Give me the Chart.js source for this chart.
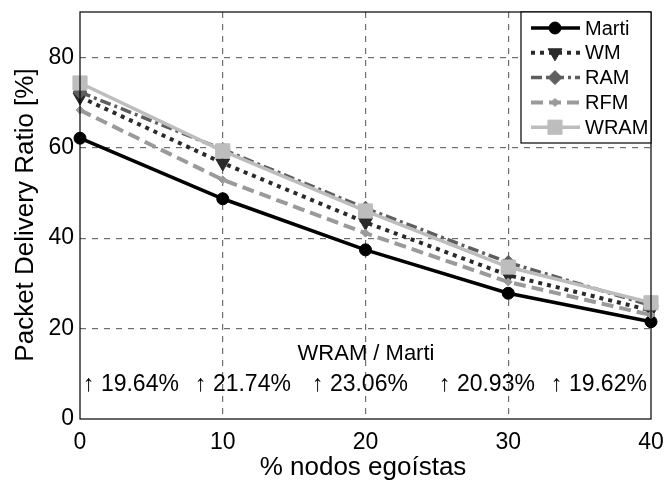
<!DOCTYPE html>
<html>
<head>
<meta charset="utf-8">
<script src="https://cdn.jsdelivr.net/npm/chart.js@4.4.0/dist/chart.umd.min.js"></script>
<style>
    html, body { margin: 0; padding: 0; background: #fff; }
    #wrap { width: 664px; height: 483px; }
</style>
</head>
<body>
<div id="wrap"><canvas id="pdrChart" width="664" height="483"></canvas></div>
<script>
// % de nodos egoístas en la red
const selfishPct = [0, 10, 20, 30, 40];

// Packet Delivery Ratio [%] por protocolo
const marti = [62.1, 48.7, 37.4, 27.8, 21.5];
const wm    = [71.2, 56.6, 43.5, 31.8, 24.0];
const ram   = [72.3, 59.6, 46.6, 34.6, 25.1];
const rfm   = [68.3, 52.9, 41.1, 30.3, 23.0];
const wram  = [74.3, 59.3, 46.0, 33.6, 25.7];

// mejora de WRAM frente a Marti
const gainLabels = ['19.64%', '21.74%', '23.06%', '20.93%', '19.62%'];
const gainLeft = [83, 195, 312, 439, 551];

const yTicks = [0, 20, 40, 60, 80];
const FONT = '"Liberation Sans", Arial, sans-serif';

Chart.defaults.font.family = FONT;
Chart.defaults.color = '#000';

function toPoints(values) {
    return values.map((v, i) => ({ x: selfishPct[i], y: v }));
}

const series = [
    { label: 'Marti', data: marti, color: '#000000', width: 3.5, dash: [], style: 'circle', radius: 6, rot: 0, order: 5 },
    { label: 'WM', data: wm, color: '#2a2a2a', width: 4, dash: [4, 5], style: 'triangle', radius: 8, rot: 180, order: 4 },
    { label: 'RAM', data: ram, color: '#5e5e5e', width: 3.5, dash: [11, 4, 3, 4], style: 'rectRot', radius: 7, rot: 0, order: 3 },
    { label: 'RFM', data: rfm, color: '#9a9a9a', width: 4, dash: [12, 6], style: 'rectRot', radius: 4, rot: 0, order: 2 },
    { label: 'WRAM', data: wram, color: '#bdbdbd', width: 3.5, dash: [], style: 'rect', radius: 10, rot: 0, order: 1 }
];

// frame, axis titles, annotations and legend box
const decorations = {
    id: 'decorations',
    afterDatasetsDraw(chart) {
        const { ctx, chartArea: a } = chart;
        ctx.save();

        // plot box
        ctx.strokeStyle = '#000';
        ctx.lineWidth = 1.2;
        ctx.setLineDash([]);
        ctx.strokeRect(a.left, a.top, a.right - a.left, a.bottom - a.top);

        // WRAM / Marti gains
        ctx.fillStyle = '#000';
        ctx.font = '22px ' + FONT;
        ctx.textAlign = 'center';
        ctx.textBaseline = 'middle';
        ctx.fillText('WRAM / Marti', 366, 354);
        ctx.font = '23px ' + FONT;
        ctx.textAlign = 'left';
        ctx.textBaseline = 'alphabetic';
        gainLabels.forEach((g, i) => {
            ctx.fillText('\u2191 ' + g, gainLeft[i], 391);
        });

        // legend
        const lx = 521, ly = a.top, lw = a.right - lx, lh = 131;
        ctx.fillStyle = '#fff';
        ctx.fillRect(lx, ly, lw, lh);
        ctx.strokeStyle = '#000';
        ctx.lineWidth = 1.2;
        ctx.strokeRect(lx, ly, lw, lh);
        series.forEach((s, i) => {
            const y = ly + 16 + i * 24.8;
            ctx.beginPath();
            ctx.strokeStyle = s.color;
            ctx.lineWidth = s.width;
            ctx.setLineDash(s.dash);
            ctx.moveTo(531, y);
            ctx.lineTo(580, y);
            ctx.stroke();
            ctx.setLineDash([]);
            ctx.fillStyle = s.color;
            ctx.strokeStyle = s.color;
            ctx.lineWidth = 1;
            Chart.helpers.drawPoint(ctx, { pointStyle: s.style, radius: s.radius, rotation: s.rot, borderWidth: 1 }, 555, y);
            ctx.fillStyle = '#000';
            ctx.font = '20px ' + FONT;
            ctx.textAlign = 'left';
            ctx.textBaseline = 'middle';
            ctx.fillText(s.label, 585, y + 1);
        });

        // axis titles
        ctx.fillStyle = '#000';
        ctx.font = '26px ' + FONT;
        ctx.textAlign = 'center';
        ctx.textBaseline = 'alphabetic';
        ctx.fillText('% nodos egoístas', 363, 475);
        ctx.translate(33, 215);
        ctx.rotate(-Math.PI / 2);
        ctx.fillText('Packet Delivery Ratio [%]', 0, 0);
        ctx.restore();
    }
};

new Chart(document.getElementById('pdrChart'), {
    type: 'line',
    data: {
        datasets: series.map(s => ({
            label: s.label,
            data: toPoints(s.data),
            borderColor: s.color,
            backgroundColor: s.color,
            borderWidth: s.width,
            borderDash: s.dash,
            borderCapStyle: 'butt',
            pointStyle: s.style,
            pointRadius: s.radius,
            pointRotation: s.rot,
            pointBorderWidth: 1,
            pointBackgroundColor: s.color,
            pointBorderColor: s.color,
            tension: 0,
            fill: false,
            clip: false,
            order: s.order
        }))
    },
    options: {
        responsive: false,
        animation: false,
        layout: { padding: { top: 12, right: 13, left: 0, bottom: 0 } },
        plugins: {
            legend: { display: false },
            tooltip: { enabled: false }
        },
        scales: {
            x: {
                type: 'linear',
                min: 0,
                max: 40,
                afterBuildTicks: scale => { scale.ticks = selfishPct.map(v => ({ value: v })); },
                afterFit: scale => {
                    scale.height = 64;
                    scale.paddingLeft = 0;
                    scale.paddingRight = 0;
                },
                grid: {
                    drawTicks: false,
                    color: c => (c.tick.value === 0 || c.tick.value === 40) ? 'rgba(0,0,0,0)' : '#6e6e6e',
                    lineWidth: 1.2
                },
                border: { display: false, dash: [6, 6] },
                ticks: { font: { size: 23 }, padding: 10, color: '#000' }
            },
            y: {
                type: 'linear',
                min: 0,
                max: 90,
                afterBuildTicks: scale => { scale.ticks = yTicks.map(v => ({ value: v })); },
                afterFit: scale => {
                    scale.width = 80;
                    scale.paddingTop = 0;
                    scale.paddingBottom = 0;
                },
                grid: {
                    drawTicks: false,
                    color: c => c.tick.value === 0 ? 'rgba(0,0,0,0)' : '#6e6e6e',
                    lineWidth: 1.2
                },
                border: { display: false, dash: [6, 6] },
                ticks: { font: { size: 23 }, padding: 6, color: '#000' }
            }
        }
    },
    plugins: [decorations]
});
</script>
</body>
</html>
